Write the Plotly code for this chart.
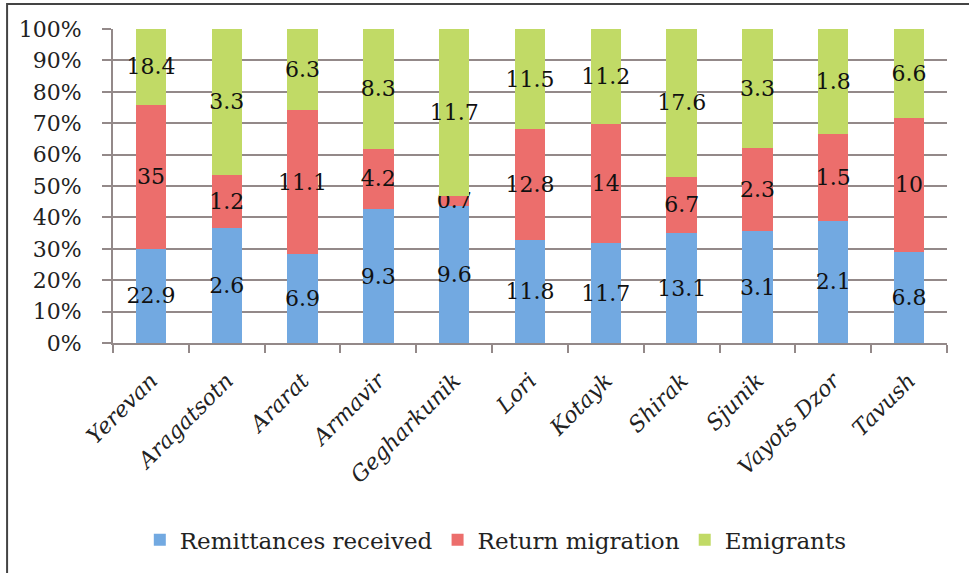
import plotly.graph_objects as go

REGIONS = [
    "Yerevan", "Aragatsotn", "Ararat", "Armavir", "Gegharkunik", "Lori",
    "Kotayk", "Shirak", "Sjunik", "Vayots Dzor", "Tavush",
]
REMITTANCES = [22.9, 2.6, 6.9, 9.3, 9.6, 11.8, 11.7, 13.1, 3.1, 2.1, 6.8]
RETURN_MIGRATION = [35, 1.2, 11.1, 4.2, 0.7, 12.8, 14, 6.7, 2.3, 1.5, 10]
EMIGRANTS = [18.4, 3.3, 6.3, 8.3, 11.7, 11.5, 11.2, 17.6, 3.3, 1.8, 6.6]

SERIES = [
    ("Remittances received", REMITTANCES, "#72a9e1"),
    ("Return migration", RETURN_MIGRATION, "#ec6e6c"),
    ("Emigrants", EMIGRANTS, "#c1da66"),
]

FONT = "DejaVu Serif"
GRID = "#938989"

fig = go.Figure()
for name, values, color in SERIES:
    fig.add_trace(
        go.Bar(
            name=name,
            x=REGIONS,
            y=values,
            marker=dict(color=color, line=dict(width=0)),
            text=[f"{v:g}" for v in values],
            textposition="inside",
            insidetextanchor="middle",
            textangle=0,
            constraintext="none",
            textfont=dict(family=FONT, size=22, color="#111111"),
            cliponaxis=False,
        )
    )

fig.update_layout(
    barmode="stack",
    barnorm="percent",
    bargap=0.6,
    width=969,
    height=573,
    margin=dict(l=113, r=22, t=29, b=230),
    paper_bgcolor="white",
    plot_bgcolor="white",
    font=dict(family=FONT, size=22, color="#222222"),
    legend=dict(
        orientation="h",
        x=0.459,
        xanchor="center",
        y=-0.627,
        yanchor="middle",
        font=dict(family=FONT, size=23, color="#222222"),
        traceorder="normal",
    ),
    shapes=[
        dict(
            type="rect", xref="paper", yref="paper",
            x0=-0.127, x1=1.06, y0=-0.8, y1=1.08,
            line=dict(color="#444444", width=2),
            layer="below",
        )
    ],
)

fig.update_yaxes(
    range=[0, 100],
    dtick=10,
    ticksuffix="%",
    showgrid=True,
    gridcolor=GRID,
    gridwidth=2,
    showline=True,
    linecolor=GRID,
    linewidth=2,
    ticks="outside",
    ticklen=9,
    tickwidth=2,
    tickcolor=GRID,
    ticklabelstandoff=16,
    tickfont=dict(family=FONT, size=22, color="#222222"),
    zeroline=False,
)
fig.update_xaxes(
    tickangle=-45,
    tickson="boundaries",
    ticks="outside",
    ticklen=8,
    tickwidth=2,
    tickcolor=GRID,
    showline=True,
    linecolor=GRID,
    linewidth=2,
    ticklabelstandoff=14,
    tickfont=dict(family=FONT, size=22, color="#222222", style="italic"),
)

# drop the default page margin so the figure sits at the window's corner
fig.write_html(
    "out.html",
    config={"displayModeBar": False},
    post_script="document.body.style.margin='0';document.body.style.overflow='hidden';",
)
